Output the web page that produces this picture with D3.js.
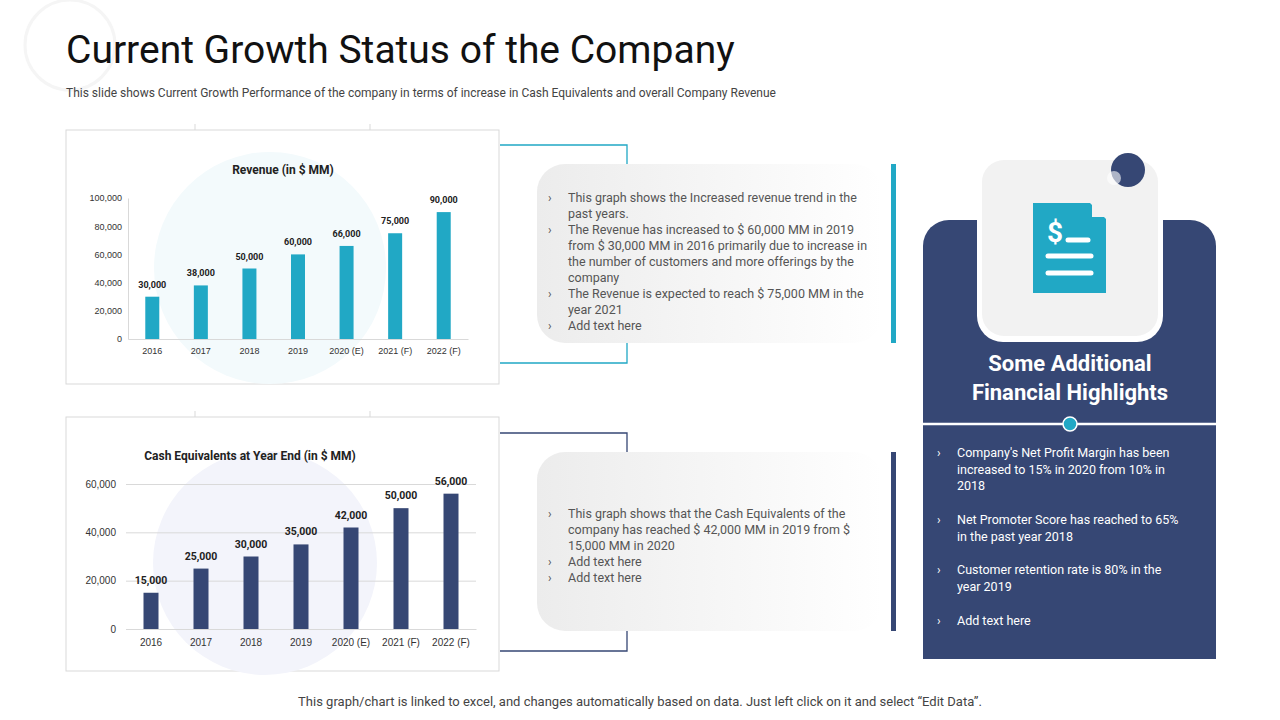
<!DOCTYPE html><html><head><meta charset="utf-8">
<script src="https://cdn.jsdelivr.net/npm/d3@7"></script>
<style>body{margin:0;background:#fff}svg{font-family:Roboto,"Liberation Sans",sans-serif}</style></head><body>
<svg id="s" width="1280" height="720"></svg>
<script>
const categories=["2016","2017","2018","2019","2020 (E)","2021 (F)","2022 (F)"];
const revenue=[30000,38000,50000,60000,66000,75000,90000];
const cash=[15000,25000,30000,35000,42000,50000,56000];
const revTicks=[0,20000,40000,60000,80000,100000];
const cashTicks=[0,20000,40000,60000];
const teal="#21a8c5", navy="#364774";
const svg=d3.select("#s");
const defs=svg.append("defs");
const g=defs.append("linearGradient").attr("id","gr");
g.append("stop").attr("offset","0").attr("stop-color","#ececec");
g.append("stop").attr("offset","1").attr("stop-color","#fff");
svg.append("circle").attr("cx",70).attr("cy",45).attr("r",45).attr("fill","none").attr("stroke","#f5f5f5").attr("stroke-width",3);
svg.append("text").attr("x",66).attr("y",63).attr("font-size",39).attr("fill","#111").text("Current Growth Status of the Company");
svg.append("text").attr("x",66).attr("y",97).attr("font-size",12).attr("fill","#444").text("This slide shows Current Growth Performance of the company in terms of increase in Cash Equivalents and overall Company Revenue");
const fmt=d3.format(",");
function chart(o){
  svg.append("rect").attr("x",66).attr("y",o.top).attr("width",433).attr("height",254).attr("fill","#fff").attr("stroke","#d9d9d9");
  [195,370].forEach(x=>svg.append("line").attr("x1",x).attr("x2",x).attr("y1",o.top-6).attr("y2",o.top).attr("stroke","#d9d9d9"));
  svg.append("circle").attr("cx",o.cx).attr("cy",o.cy).attr("r",o.r).attr("fill",o.cfill);
  const x=d3.scaleBand().domain(categories).range([o.x0,o.x1]).paddingInner(o.pad).paddingOuter(o.pad/2);
  const y=d3.scaleLinear().domain([0,o.max]).range([o.y0,o.y1]);
  const gy=svg.append("g").attr("transform",`translate(${o.x0},0)`).call(d3.axisLeft(y).tickValues(o.ticks).tickSize(o.grid?-(o.x1-o.x0):0).tickPadding(o.tp).tickFormat(fmt));
  gy.select(".domain").attr("stroke",o.grid?"none":"#d9d9d9");
  gy.selectAll(".tick line").attr("stroke","#d9d9d9");
  gy.selectAll("text").attr("font-size",o.fs).attr("fill","#333").attr("font-family","inherit");
  const gx=svg.append("g").attr("transform",`translate(0,${o.y0})`).call(d3.axisBottom(x).tickSize(0).tickPadding(o.xp));
  gx.select(".domain").attr("stroke","#d9d9d9");
  gx.selectAll("text").attr("font-size",o.fs).attr("fill","#333").attr("font-family","inherit");
  svg.selectAll(null).data(o.data).enter().append("rect").attr("x",(d,i)=>x(categories[i])+(x.bandwidth()-o.bw)/2).attr("width",o.bw).attr("y",d=>y(d)).attr("height",d=>o.y0-y(d)).attr("fill",o.color);
  svg.selectAll(null).data(o.data).enter().append("text").attr("x",(d,i)=>x(categories[i])+x.bandwidth()/2).attr("y",d=>y(d)-9).attr("text-anchor","middle").attr("font-size",o.lfs).attr("font-weight","bold").attr("fill","#222").text(fmt);
  svg.append("text").attr("x",o.tx).attr("y",o.ty).attr("text-anchor","middle").attr("font-size",12).attr("font-weight","bold").attr("fill","#222").text(o.title);
}
chart({top:130,cx:270,cy:268,r:116,cfill:"#f3fafc",x0:128,x1:468,y0:339,y1:198,max:100000,ticks:revTicks,grid:false,tp:6,fs:9,xp:9,pad:0.72,bw:14,data:revenue,color:teal,lfs:9,tx:283,ty:174,title:"Revenue (in $ MM)"});
chart({top:417,cx:265,cy:563,r:112,cfill:"#f3f4fb",x0:126,x1:476,y0:629,y1:484,max:60000,ticks:cashTicks,grid:true,tp:10,fs:10,xp:10,pad:0.7,bw:15,data:cash,color:navy,lfs:10.5,tx:250,ty:460,title:"Cash Equivalents at Year End (in $ MM)"});
function panel(top,bot,color,lines,ty){
  svg.append("path").attr("d",`M500,${top-19}H627V${top+1}M627,${bot-1}V${bot+20}H500`).attr("fill","none").attr("stroke",color).attr("stroke-width",1.3);
  svg.append("rect").attr("x",537).attr("y",top).attr("width",345).attr("height",bot-top).attr("rx",28).attr("fill","url(#gr)");
  svg.append("rect").attr("x",891).attr("y",top).attr("width",5).attr("height",bot-top).attr("fill",color);
  lines.forEach((l,i)=>{
    if(l[0]) svg.append("text").attr("x",548).attr("y",ty+i*16).attr("font-size",12).attr("fill","#555").text("›");
    svg.append("text").attr("x",568).attr("y",ty+i*16).attr("font-size",12.5).attr("fill","#555").text(l[1]);
  });
}
panel(164,343,teal,[[1,"This graph shows the Increased revenue trend in the"],[0,"past years."],[1,"The Revenue has increased to $ 60,000 MM in 2019"],[0,"from $ 30,000 MM in 2016 primarily due to increase in"],[0,"the number of customers and more offerings by the"],[0,"company"],[1,"The Revenue is expected to reach $ 75,000 MM in the"],[0,"year 2021"],[1,"Add text here"]],202);
panel(452,631,navy,[[1,"This graph shows that the Cash Equivalents of the"],[0,"company has reached $ 42,000 MM in 2019 from $"],[0,"15,000 MM in 2020"],[1,"Add text here"],[1,"Add text here"]],518);
svg.append("path").attr("d","M923,659V246a26,26 0 0 1 26,-26H1190a26,26 0 0 1 26,26V659Z").attr("fill",navy);
svg.append("rect").attr("x",977).attr("y",156).attr("width",186).attr("height",186).attr("rx",26).attr("fill","#fff");
svg.append("rect").attr("x",982).attr("y",160).attr("width",176).attr("height",176).attr("rx",22).attr("fill","#f2f2f2");
svg.append("circle").attr("cx",1128).attr("cy",170).attr("r",17).attr("fill",navy);
svg.append("circle").attr("cx",1114).attr("cy",178).attr("r",7).attr("fill","#fff").attr("opacity",0.6);
svg.append("path").attr("d","M1033,203H1090L1106,219V293H1033Z").attr("fill",teal);
svg.append("path").attr("d","M1092,201L1108,217H1092Z").attr("fill","#f2f2f2");
svg.append("text").attr("x",1055).attr("y",242).attr("text-anchor","middle").attr("font-size",28).attr("font-weight","bold").attr("fill","#fff").text("$");
[[1068,1088,240],[1048,1091,256],[1048,1091,273]].forEach(a=>svg.append("line").attr("x1",a[0]).attr("x2",a[1]).attr("y1",a[2]).attr("y2",a[2]).attr("stroke","#fff").attr("stroke-width",5).attr("stroke-linecap","round"));
["Some Additional","Financial Highlights"].forEach((t,i)=>svg.append("text").attr("x",1070).attr("y",371+i*29).attr("text-anchor","middle").attr("font-size",22).attr("font-weight","bold").attr("fill","#fff").text(t));
svg.append("line").attr("x1",923).attr("x2",1216).attr("y1",424).attr("y2",424).attr("stroke","#fff").attr("stroke-width",2.5);
svg.append("circle").attr("cx",1070).attr("cy",424).attr("r",7).attr("fill",teal).attr("stroke","#fff").attr("stroke-width",1.5);
const hl=[[457,["Company's Net Profit Margin has been","increased to 15% in 2020 from 10% in","2018"]],[524,["Net Promoter Score has reached to 65%","in the past year 2018"]],[574,["Customer retention rate is 80% in the","year 2019"]],[625,["Add text here"]]];
hl.forEach(([y,ls])=>{svg.append("text").attr("x",937).attr("y",y).attr("font-size",12).attr("fill","#fff").text("›");
 ls.forEach((l,i)=>svg.append("text").attr("x",957).attr("y",y+i*16.5).attr("font-size",12.5).attr("fill","#fff").text(l));});
svg.append("text").attr("x",640).attr("y",706).attr("text-anchor","middle").attr("font-size",13).attr("fill","#444").text("This graph/chart is linked to excel, and changes automatically based on data. Just left click on it and select “Edit Data”.");
</script></body></html>
